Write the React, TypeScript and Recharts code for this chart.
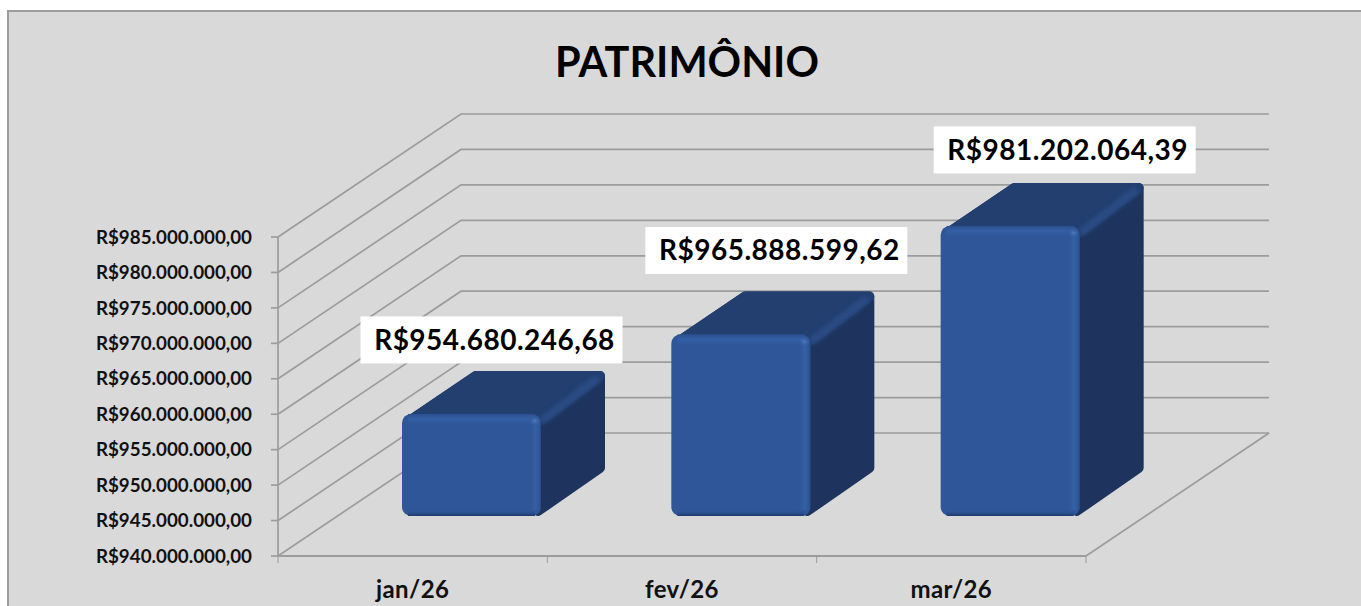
import { BarChart, Bar, XAxis, YAxis, CartesianGrid, LabelList } from 'recharts';

const categories = ['jan/26', 'fev/26', 'mar/26'];
const patrimonio = [954680246.68, 965888599.62, 981202064.39];
const yTicks = [
  940000000, 945000000, 950000000, 955000000, 960000000,
  965000000, 970000000, 975000000, 980000000, 985000000,
];

const data = categories.map((month, i) => ({ month, value: patrimonio[i] }));

// layout of the fake 3D box
const PLOT_W = 808;
const BACK_DX = 183;
const BACK_DY = 123;
const BAR_DX = 59;
const BAR_BOTTOM_DY = 40;
const BAR_TOP_DY = 38;
const SIDE_DX = 64;
const SIDE_DY = 43;
const LABEL_DX = [79, 94.5, 113.5];
const LABEL_DY = [-112, -122, -114];

const GRID = '#9c9c9c';

const formatBRL = (value: number) => {
  const [int, dec] = value.toFixed(2).split('.');
  return `R$${int.replace(/\B(?=(\d{3})+$)/g, '.')},${dec}`;
};

function WallLine(props: any) {
  const { x1, x2, y1 } = props;
  const bx = x1 + BACK_DX;
  const by = y1 - BACK_DY;
  return (
    <polyline
      points={`${x1},${y1} ${bx},${by} ${x2 + BACK_DX},${by}`}
      fill="none"
      stroke={GRID}
      strokeWidth={1.7}
    />
  );
}

function MonthTick(props: any) {
  const { x, y, payload, index } = props;
  const band = PLOT_W / categories.length;
  const right = x + band / 2;
  const axisY = y - 8;
  return (
    <g>
      <line x1={right} y1={axisY} x2={right} y2={axisY + 7} stroke={GRID} />
      {index === 0 && <line x1={x - band / 2} y1={axisY} x2={x - band / 2} y2={axisY + 7} stroke={GRID} />}
      {index === categories.length - 1 && (
        <line x1={right} y1={axisY} x2={right + BACK_DX} y2={axisY - BACK_DY} stroke={GRID} strokeWidth={1.7} />
      )}
      <text
        x={x}
        y={axisY + 42}
        textAnchor="middle"
        fontFamily="Lato"
        fontWeight={700}
        fontSize={24}
        letterSpacing={0.4}
        fill="#111"
      >
        {payload.value}
      </text>
    </g>
  );
}

function BarDefs() {
  return (
    <defs>
      <linearGradient id="frontTop" x1="0" y1="0" x2="0" y2="1">
        <stop offset="0" stopColor="#2a4f8e" />
        <stop offset="0.4" stopColor="#3560a6" />
        <stop offset="1" stopColor="#2e5698" stopOpacity={0} />
      </linearGradient>
      <linearGradient id="frontRight" x1="0" y1="0" x2="1" y2="0">
        <stop offset="0" stopColor="#2e5698" stopOpacity={0} />
        <stop offset="0.55" stopColor="#3460a5" />
        <stop offset="0.85" stopColor="#2f5899" />
        <stop offset="1" stopColor="#264a85" />
      </linearGradient>
      <linearGradient id="frontBottom" x1="0" y1="0" x2="0" y2="1">
        <stop offset="0" stopColor="#2e5698" stopOpacity={0} />
        <stop offset="1" stopColor="#1d3868" />
      </linearGradient>
      <radialGradient id="cornerSpot">
        <stop offset="0" stopColor="#5079bd" />
        <stop offset="1" stopColor="#3560a6" stopOpacity={0} />
      </radialGradient>
      <filter id="soft" x="-30%" y="-30%" width="160%" height="160%">
        <feGaussianBlur stdDeviation="2.2" />
      </filter>
    </defs>
  );
}

function Box3D(props: any) {
  const { x, y, width, height } = props;
  const left = x + BAR_DX;
  const right = left + width;
  const top = y - BAR_TOP_DY;
  const bottom = y + height - BAR_BOTTOM_DY;
  const backTop = top - SIDE_DY;
  return (
    <g>
      <BarDefs />
      <path
        d={`M${left + 9},${top + 6} L${left + SIDE_DX + 10},${backTop + 5} H${right + SIDE_DX - 5} V${bottom - SIDE_DY - 5} L${right - 3},${bottom - 5} Z`}
        fill="#1e345e"
        stroke="#1e345e"
        strokeWidth={10}
        strokeLinejoin="round"
      />
      <path
        d={`M${left + 9},${top + 6} L${left + SIDE_DX + 10},${backTop + 5} H${right + SIDE_DX - 5} L${right - 3},${top + 8} Z`}
        fill="#223f70"
        stroke="#223f70"
        strokeWidth={10}
        strokeLinejoin="round"
      />
      <path
        d={`M${right + 1},${top + 7} L${right + SIDE_DX - 7},${backTop + 7}`}
        stroke="#2a4c85"
        strokeWidth={8}
        fill="none"
        filter="url(#soft)"
      />
      <rect x={left} y={top} width={width} height={bottom - top} rx={9} fill="#2e5698" />
      <rect x={left + 6} y={top} width={width - 12} height={13} fill="url(#frontTop)" />
      <rect x={right - 13} y={top + 6} width={13} height={bottom - top - 12} fill="url(#frontRight)" />
      <rect x={left + 6} y={bottom - 6} width={width - 12} height={6} fill="url(#frontBottom)" />
      <ellipse cx={right - 6} cy={top + 7} rx={6} ry={5} fill="url(#cornerSpot)" />
    </g>
  );
}

function ValueLabel(props: any) {
  const { x, y, value, index } = props;
  const cx = x + 69.5 + LABEL_DX[index];
  const cy = y + LABEL_DY[index];
  return (
    <g>
      <rect x={cx - 131} y={cy - 23.5} width={262} height={47} fill="#ffffff" />
      <text
        x={cx + 3}
        y={cy + 10}
        textAnchor="middle"
        fontFamily="Lato"
        fontWeight={700}
        fontSize={28}
        letterSpacing={0.5}
        fill="#000"
      >
        {formatBRL(value)}
      </text>
    </g>
  );
}

export default function App() {
  return (
    <div style={{ position: 'absolute', left: 0, top: 0, width: 1361, height: 606, overflow: 'hidden', background: '#fff' }}>
      <div
        style={{
          position: 'absolute',
          left: 7,
          top: 10,
          right: 0,
          bottom: 0,
          background: '#d9d9d9',
          borderTop: '2px solid #9c9c9c',
          borderLeft: '2px solid #9c9c9c',
        }}
      />
      <div
        style={{
          position: 'absolute',
          left: 0,
          width: 1374,
          top: 36,
          textAlign: 'center',
          fontFamily: 'Lato',
          fontWeight: 700,
          fontSize: 41.5,
          lineHeight: '50px',
          color: '#000',
        }}
      >
        PATRIMÔNIO
      </div>
      <div style={{ position: 'absolute', left: 0, top: 0 }}>
        <BarChart width={1361} height={606} data={data} margin={{ top: 237, right: 275, bottom: 0, left: 0 }}>
          <CartesianGrid vertical={false} horizontal={(p: any) => <WallLine key={p.index} {...p} />} />
          <XAxis
            dataKey="month"
            height={50}
            stroke={GRID}
            strokeWidth={2.2}
            tickLine={false}
            tick={<MonthTick />}
          />
          <YAxis
            width={278}
            domain={[940000000, 985000000]}
            ticks={yTicks}
            interval={0}
            stroke={GRID}
            strokeWidth={1.7}
            tickSize={7}
            tickMargin={19}
            tickFormatter={formatBRL}
            tick={{ fontFamily: 'Lato', fontWeight: 700, fontSize: 18.8, fill: '#111' }}
          />
          <Bar dataKey="value" barSize={139} shape={<Box3D />} isAnimationActive={false}>
            <LabelList dataKey="value" content={<ValueLabel />} />
          </Bar>
        </BarChart>
      </div>
    </div>
  );
}
